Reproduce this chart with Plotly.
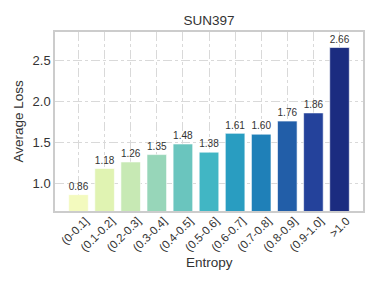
import plotly.graph_objects as go
from plotly.colors import sample_colorscale

categories = ["(0-0.1]", "(0.1-0.2]", "(0.2-0.3]", "(0.3-0.4]", "(0.4-0.5]", "(0.5-0.6]",
              "(0.6-0.7]", "(0.7-0.8]", "(0.8-0.9]", "(0.9-1.0]", ">1.0"]
avg_loss = [0.86, 1.18, 1.26, 1.35, 1.48, 1.38, 1.61, 1.60, 1.76, 1.86, 2.66]

n = len(categories)
colors = sample_colorscale("YlGnBu", [(i + 1) / (n + 1) for i in range(n)])

W, H = 377, 283
L, R, T, B = 55, 14, 32, 72
pw, ph = W - L - R, H - T - B

x = list(range(n))
fig = go.Figure(go.Bar(
    x=x, y=avg_loss, width=0.75,
    marker=dict(color=colors, line=dict(color="rgba(255,255,255,0.6)", width=1)),
    text=[f"{v:.2f}" for v in avg_loss], textposition="outside",
    textfont=dict(size=11, color="#333333"), cliponaxis=False,
))

font = "Liberation Sans, Arial, sans-serif"
fig.update_layout(
    width=W, height=H,
    margin=dict(l=L, r=R, t=T, b=B, autoexpand=False),
    paper_bgcolor="white", plot_bgcolor="white",
    font=dict(family=font, color="#333333", size=12),
    title=dict(text="SUN397", x=0.5, xanchor="center", y=1 - 20 / H, yref="container",
               yanchor="middle", xref="paper", font=dict(size=13.5, color="#333333")),
    showlegend=False,
    annotations=[
        dict(text="Average Loss", x=(18 - L) / pw, y=0.5, xref="paper", yref="paper",
             xanchor="center", yanchor="middle",
             showarrow=False, textangle=-90, font=dict(size=13.5)),
        dict(text="Entropy", x=0.5, y=(H - B - 262) / ph, xref="paper", yref="paper",
             xanchor="center", yanchor="middle",
             showarrow=False, font=dict(size=13.5)),
    ],
)

fig.update_xaxes(
    tickmode="array", tickvals=x, ticktext=categories, tickangle=-45,
    range=[-0.9, n - 0.1], tickfont=dict(size=11.5), automargin=False,
    ticklabelshift=7, ticklabelstandoff=-3,
    showgrid=True, gridcolor="#d9d9d9", griddash="dashdot", gridwidth=1,
    showline=True, linecolor="#cccccc", linewidth=1.5, mirror=True, ticks="",
)
fig.update_yaxes(
    range=[0.66, 2.85], tickvals=[1.0, 1.5, 2.0, 2.5], ticktext=["1.0", "1.5", "2.0", "2.5"],
    tickfont=dict(size=13), automargin=False,
    showgrid=True, gridcolor="#d9d9d9", griddash="dashdot", gridwidth=1,
    showline=True, linecolor="#cccccc", linewidth=1.5, mirror=True, ticks="",
    zeroline=False,
)
fig.write_html("out.html", post_script="document.body.style.margin='0';",
               config={"displayModeBar": False})
